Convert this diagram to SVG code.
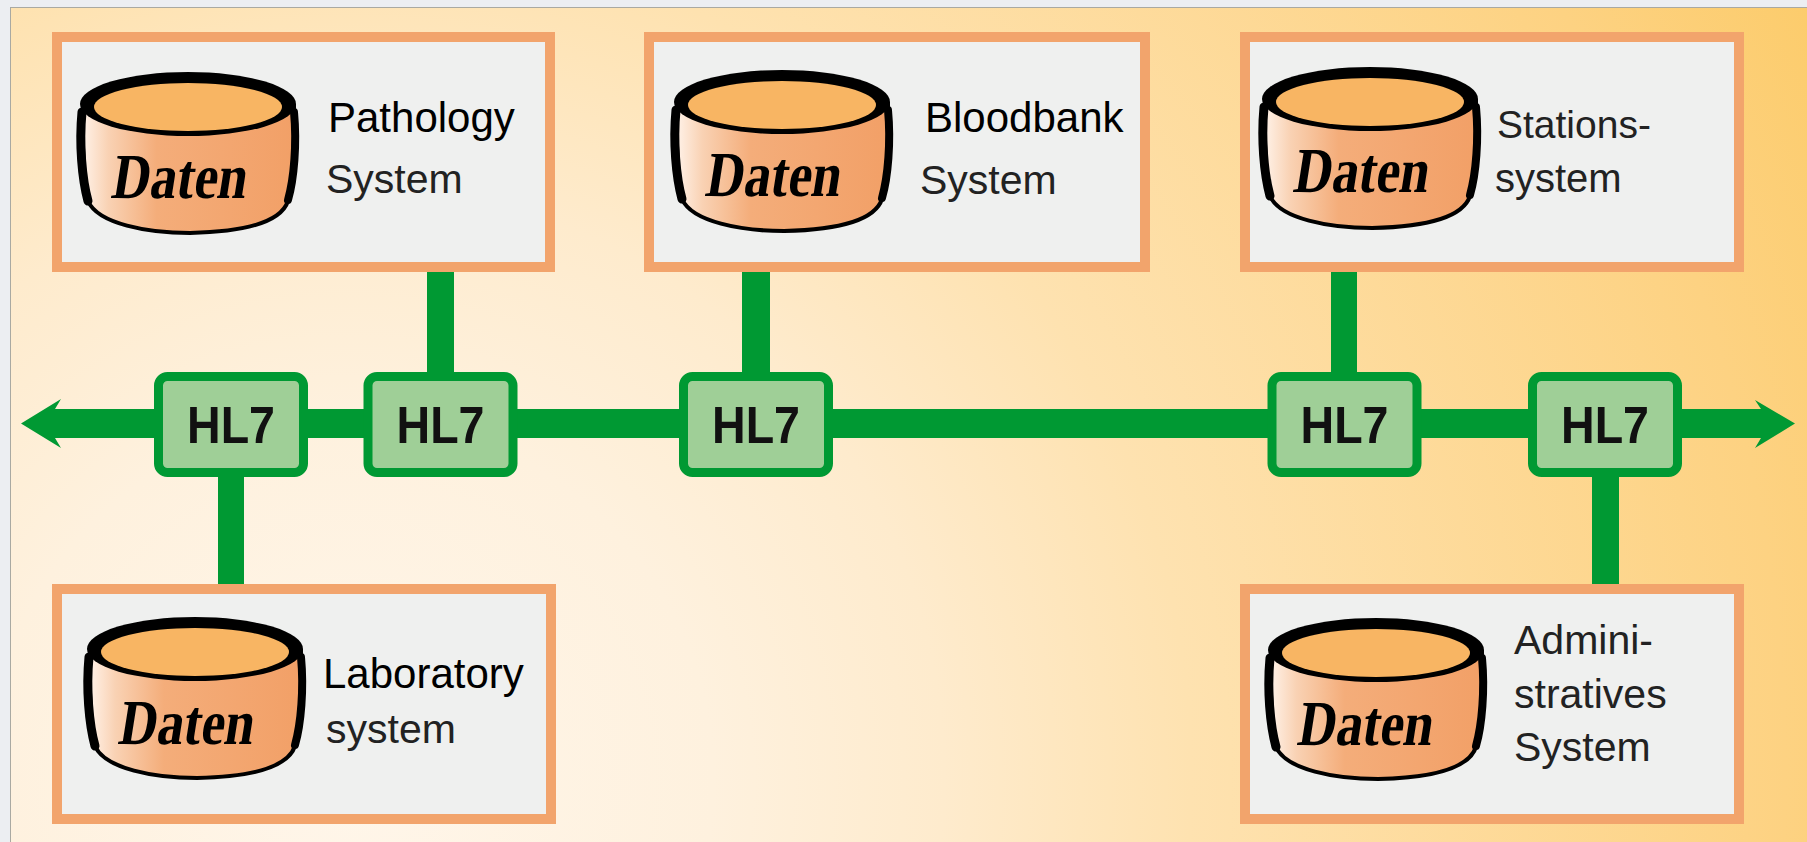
<svg xmlns="http://www.w3.org/2000/svg" xmlns:xlink="http://www.w3.org/1999/xlink" width="1807" height="842" viewBox="0 0 1807 842">
  <defs>
    <radialGradient id="bg" gradientUnits="userSpaceOnUse" cx="350" cy="780" r="1650">
      <stop offset="0" stop-color="#fff6ea"/>
      <stop offset="0.22" stop-color="#fef1de"/>
      <stop offset="0.36" stop-color="#feebcd"/>
      <stop offset="0.51" stop-color="#fee2b0"/>
      <stop offset="0.87" stop-color="#fdd282"/>
      <stop offset="1" stop-color="#fccc6c"/>
    </radialGradient>
    <linearGradient id="body" x1="0" y1="0" x2="1" y2="0">
      <stop offset="0" stop-color="#fff2e8"/>
      <stop offset="0.12" stop-color="#f9d2b4"/>
      <stop offset="0.35" stop-color="#f4ad7a"/>
      <stop offset="1" stop-color="#f2a067"/>
    </linearGradient>
    <g id="cyl">
      <path d="M-105,2 C-106,40 -104,80 -100,97 C-90,120 -40,129 2,129 C48,128 92,121 100,97 C104,80 107,40 106,2 Z" fill="url(#body)" stroke="#000" stroke-width="4"/>
      <path d="M-106,8 C-109,40 -106,75 -100,97" fill="none" stroke="#000" stroke-width="9" stroke-linecap="round"/>
      <path d="M106,8 C109,40 106,75 100,96" fill="none" stroke="#000" stroke-width="8" stroke-linecap="round"/>
      <ellipse cx="0" cy="0" rx="108" ry="32" fill="#000"/>
      <ellipse cx="0" cy="3" rx="94" ry="24" fill="#f8b563"/>
    </g>
    <style>
      .sys { fill: #eff0ef; stroke: #f2a46c; stroke-width: 10; }
      .hl7 { fill: #9fcf97; stroke: #009933; stroke-width: 9; }
      .hl7t { font-family: "Liberation Sans", Arial, sans-serif; font-weight: bold; font-size: 52px; fill: #111; text-anchor: middle; }
      .daten { font-family: "Liberation Serif", "Times New Roman", serif; font-weight: bold; font-size: 64px; fill: #000; }
      .l1 { font-family: "Liberation Sans", Arial, sans-serif; font-size: 42px; fill: #000; }
      .l2 { font-family: "Liberation Sans", Arial, sans-serif; font-size: 41px; fill: #222; }
      .wire { fill: #009933; }
    </style>
  </defs>

  <!-- page and frame -->
  <rect x="0" y="0" width="1807" height="842" fill="#eceef2"/>
  <rect x="10.5" y="7.5" width="1800" height="840" fill="url(#bg)" stroke="#a9a9a2" stroke-width="1"/>

  <!-- connectors -->
  <g id="connectors">
    <path class="wire" d="M21,423.5 L61,399 L55,409 L1761,409 L1755,400 L1795,423.5 L1755,448 L1761,438 L55,438 L61,448 Z"/>
    <rect class="wire" x="218" y="470" width="26" height="118"/>
    <rect class="wire" x="427" y="268" width="27" height="108"/>
    <rect class="wire" x="742" y="268" width="28" height="108"/>
    <rect class="wire" x="1331" y="268" width="26" height="108"/>
    <rect class="wire" x="1592" y="470" width="27" height="118"/>
  </g>

  <!-- HL7 interface nodes -->
  <g id="hl7-1">
    <rect class="hl7" x="158.5" y="376.5" width="145" height="96" rx="9"/>
    <text class="hl7t" x="231" y="443" textLength="88" lengthAdjust="spacingAndGlyphs">HL7</text>
  </g>
  <g id="hl7-2">
    <rect class="hl7" x="368" y="376.5" width="145" height="96" rx="9"/>
    <text class="hl7t" x="440.5" y="443" textLength="88" lengthAdjust="spacingAndGlyphs">HL7</text>
  </g>
  <g id="hl7-3">
    <rect class="hl7" x="683.5" y="376.5" width="145" height="96" rx="9"/>
    <text class="hl7t" x="756" y="443" textLength="88" lengthAdjust="spacingAndGlyphs">HL7</text>
  </g>
  <g id="hl7-4">
    <rect class="hl7" x="1272" y="376.5" width="145" height="96" rx="9"/>
    <text class="hl7t" x="1344.5" y="443" textLength="88" lengthAdjust="spacingAndGlyphs">HL7</text>
  </g>
  <g id="hl7-5">
    <rect class="hl7" x="1532.5" y="376.5" width="145" height="96" rx="9"/>
    <text class="hl7t" x="1605" y="443" textLength="88" lengthAdjust="spacingAndGlyphs">HL7</text>
  </g>

  <!-- system nodes -->
  <g id="pathology">
    <rect class="sys" x="57" y="37" width="493" height="230"/>
    <use xlink:href="#cyl" href="#cyl" transform="translate(188,104)"/>
    <text class="daten" transform="translate(110,198) skewX(-9)" x="0" y="0" textLength="135" lengthAdjust="spacingAndGlyphs">Daten</text>
    <text class="l1" x="328" y="132">Pathology</text>
    <text class="l2" x="326" y="193">System</text>
  </g>
  <g id="bloodbank">
    <rect class="sys" x="649" y="37" width="496" height="230"/>
    <use xlink:href="#cyl" href="#cyl" transform="translate(782,102)"/>
    <text class="daten" transform="translate(704,196) skewX(-9)" x="0" y="0" textLength="135" lengthAdjust="spacingAndGlyphs">Daten</text>
    <text class="l1" x="925" y="132">Bloodbank</text>
    <text class="l2" x="920" y="194">System</text>
  </g>
  <g id="stations">
    <rect class="sys" x="1245" y="37" width="494" height="230"/>
    <use xlink:href="#cyl" href="#cyl" transform="translate(1370,99)"/>
    <text class="daten" transform="translate(1292,192) skewX(-9)" x="0" y="0" textLength="135" lengthAdjust="spacingAndGlyphs">Daten</text>
    <text class="l2" x="1497" y="138" style="font-size:39px">Stations-</text>
    <text class="l2" x="1495" y="192" style="font-size:40px">system</text>
  </g>
  <g id="laboratory">
    <rect class="sys" x="57" y="589" width="494" height="230"/>
    <use xlink:href="#cyl" href="#cyl" transform="translate(195,649)"/>
    <text class="daten" transform="translate(117,744) skewX(-9)" x="0" y="0" textLength="135" lengthAdjust="spacingAndGlyphs">Daten</text>
    <text class="l1" x="323" y="688">Laboratory</text>
    <text class="l2" x="326" y="743">system</text>
  </g>
  <g id="administratives">
    <rect class="sys" x="1245" y="589" width="494" height="230"/>
    <use xlink:href="#cyl" href="#cyl" transform="translate(1376,650)"/>
    <text class="daten" transform="translate(1296,745) skewX(-9)" x="0" y="0" textLength="135" lengthAdjust="spacingAndGlyphs">Daten</text>
    <text class="l2" x="1514" y="654">Admini-</text>
    <text class="l2" x="1514" y="708">stratives</text>
    <text class="l2" x="1514" y="761">System</text>
  </g>
</svg>
